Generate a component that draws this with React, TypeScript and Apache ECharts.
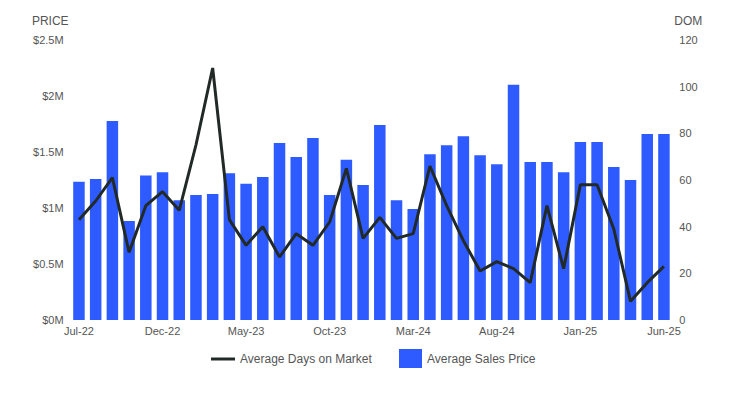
import React, { useEffect, useRef } from "react";
import * as echarts from "echarts";

const months = [
  "Jul-22", "Aug-22", "Sep-22", "Oct-22", "Nov-22", "Dec-22",
  "Jan-23", "Feb-23", "Mar-23", "Apr-23", "May-23", "Jun-23",
  "Jul-23", "Aug-23", "Sep-23", "Oct-23", "Nov-23", "Dec-23",
  "Jan-24", "Feb-24", "Mar-24", "Apr-24", "May-24", "Jun-24",
  "Jul-24", "Aug-24", "Sep-24", "Oct-24", "Nov-24", "Dec-24",
  "Jan-25", "Feb-25", "Mar-25", "Apr-25", "May-25", "Jun-25",
];

const avgSalesPrice = [
  1235000, 1260000, 1777000, 884000, 1290000, 1320000,
  1070000, 1116000, 1125000, 1310000, 1217000, 1277000,
  1580000, 1455000, 1625000, 1116000, 1430000, 1205000,
  1740000, 1070000, 990000, 1480000, 1560000, 1640000,
  1470000, 1390000, 2100000, 1410000, 1410000, 1320000,
  1590000, 1590000, 1366000, 1250000, 1660000, 1660000,
];

const avgDaysOnMarket = [
  43, 51, 61, 29, 49, 55,
  47, 75, 108, 43, 32, 40,
  27, 37, 32, 42, 65, 35,
  44, 35, 37, 66, 49, 34,
  21, 25, 22, 16, 49, 22,
  58, 58, 39, 8, 16, 23,
];

const priceTicks = ["$0M", "$0.5M", "$1M", "$1.5M", "$2M", "$2.5M"];

export default function App() {
  const ref = useRef<HTMLDivElement>(null);

  useEffect(() => {
    if (!ref.current) return;
    const chart = echarts.init(ref.current, undefined, { renderer: "svg" });
    const font = "Arial, Liberation Sans, sans-serif";
    const labelStyle = { color: "#555", fontSize: 11, fontFamily: font };
    const legendText = { color: "#555", fontSize: 12, fontFamily: font };
    chart.setOption({
      animation: false,
      grid: { left: 70.6, right: 73.7, top: 40, bottom: 78, containLabel: false },
      legend: [
        {
          top: 348,
          left: 206,
          itemWidth: 24,
          itemHeight: 3,
          itemGap: 6,
          icon: "rect",
          textStyle: legendText,
          data: ["Average Days on Market"],
        },
        {
          top: 344,
          left: 394,
          itemWidth: 23,
          itemHeight: 19,
          icon: "rect",
          textStyle: legendText,
          data: ["Average Sales Price"],
        },
      ],
      xAxis: {
        type: "category",
        data: months,
        axisLine: { show: false },
        axisTick: { show: false },
        axisLabel: { ...labelStyle, interval: 4, margin: 5 },
      },
      yAxis: [
        {
          type: "value",
          min: 0,
          max: 2500000,
          interval: 500000,
          name: "PRICE",
          nameLocation: "end",
          nameGap: 13,
          nameTextStyle: { ...labelStyle, fontSize: 12, align: "right", padding: [0, 2, 0, 0] },
          splitLine: { show: false },
          axisLine: { show: false },
          axisTick: { show: false },
          axisLabel: {
            ...labelStyle,
            margin: 7,
            formatter: (v: number) => priceTicks[Math.round(v / 500000)] ?? "",
          },
        },
        {
          type: "value",
          min: 0,
          max: 120,
          interval: 20,
          name: "DOM",
          nameLocation: "end",
          nameGap: 13,
          nameTextStyle: { ...labelStyle, fontSize: 12, align: "left", padding: [0, 0, 0, 2] },
          splitLine: { show: false },
          axisLine: { show: false },
          axisTick: { show: false },
          axisLabel: { ...labelStyle, margin: 7 },
        },
      ],
      series: [
        {
          name: "Average Sales Price",
          type: "bar",
          yAxisIndex: 0,
          data: avgSalesPrice,
          barWidth: 11.5,
          itemStyle: { color: "#2E5BFF" },
          z: 1,
        },
        {
          name: "Average Days on Market",
          type: "line",
          yAxisIndex: 1,
          data: avgDaysOnMarket,
          symbol: "none",
          lineStyle: { color: "#222a28", width: 3 },
          itemStyle: { color: "#222a28" },
          z: 3,
        },
      ],
    });
    return () => chart.dispose();
  }, []);

  return (
    <div
      ref={ref}
      style={{ position: "fixed", left: 0, top: 0, width: 746, height: 398, background: "#fff" }}
    />
  );
}
